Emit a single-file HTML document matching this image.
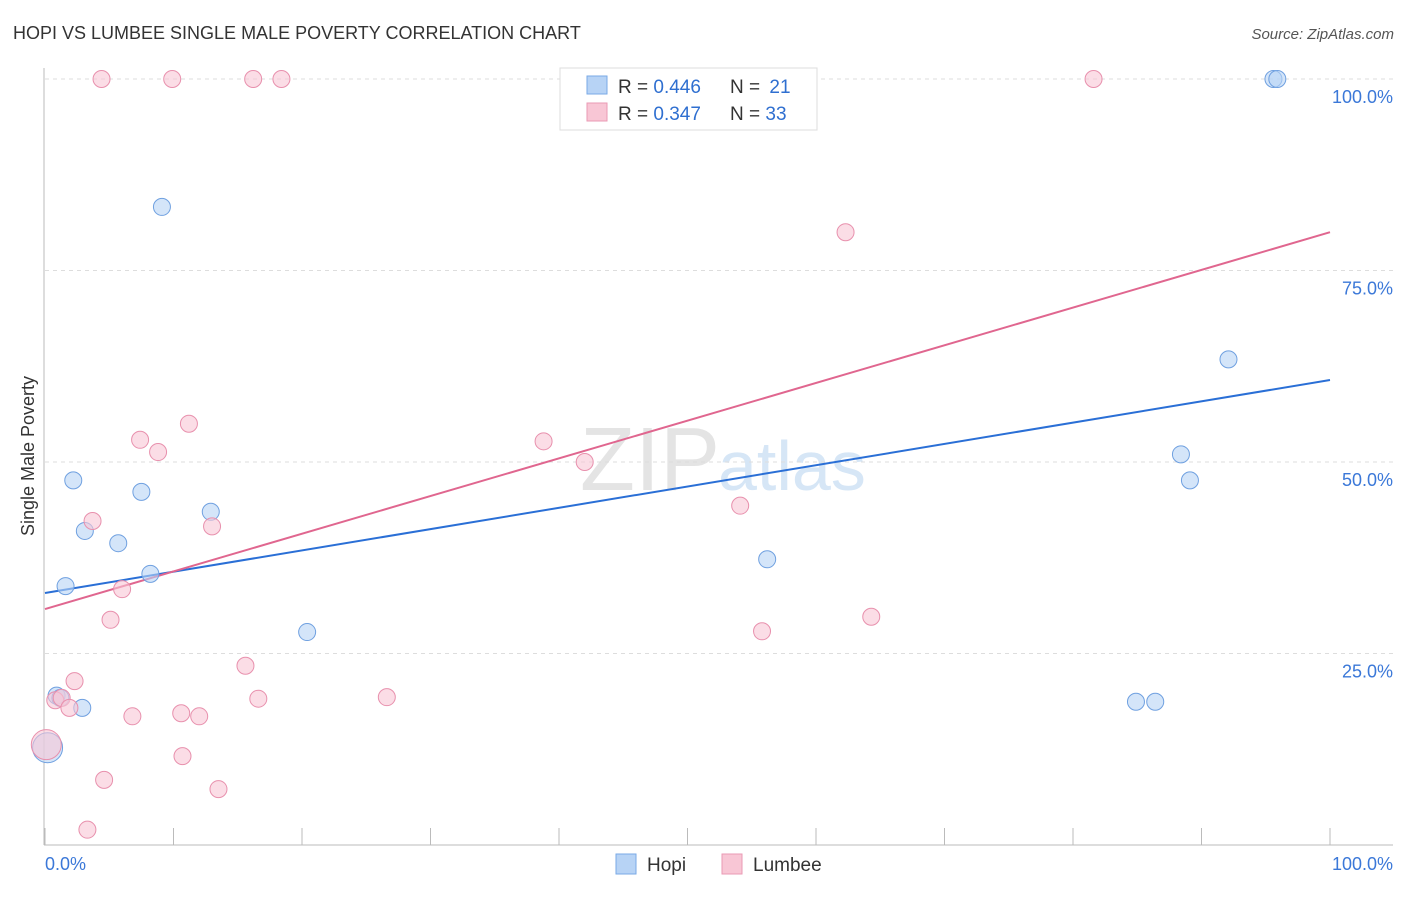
<!DOCTYPE html>
<html><head><meta charset="utf-8"><style>
body{margin:0;background:#fff;font-family:"Liberation Sans",sans-serif;}
svg text{font-family:"Liberation Sans",sans-serif;}
</style></head><body>
<svg id="chart" width="1406" height="892" xmlns="http://www.w3.org/2000/svg">
<text x="13" y="39" font-size="18" fill="#333">HOPI VS LUMBEE SINGLE MALE POVERTY CORRELATION CHART</text>
<text x="1394" y="39" font-size="15" fill="#555" font-style="italic" text-anchor="end">Source: ZipAtlas.com</text>
<text x="34" y="456" font-size="18" fill="#333" transform="rotate(-90 34 456)" text-anchor="middle">Single Male Poverty</text>
<text x="720" y="490" font-size="90" fill="#e4e4e4" font-family="Liberation Serif" text-anchor="end">ZIP</text>
<text x="718" y="490" font-size="70" fill="#d6e6f6">atlas</text>
<g id="grid"></g><g id="axes"></g><g id="lines"></g><g id="pts"></g>
<g>
<rect x="560" y="68" width="257" height="62" fill="#fff" stroke="#ddd"/>
<rect x="587" y="76" width="20" height="18" fill="#b7d3f5" stroke="#7aa9e6"/>
<text x="618" y="93" font-size="19" fill="#333">R = <tspan fill="#2f6fd0">0.446</tspan></text>
<text x="730" y="93" font-size="19" fill="#333">N = <tspan fill="#2f6fd0" dx="4">21</tspan></text>
<rect x="587" y="103" width="20" height="18" fill="#f8c6d5" stroke="#ea9ab4"/>
<text x="618" y="120" font-size="19" fill="#333">R = <tspan fill="#2f6fd0">0.347</tspan></text>
<text x="730" y="120" font-size="19" fill="#333">N = <tspan fill="#2f6fd0">33</tspan></text>
</g>
<g>
<rect x="616" y="854" width="20" height="20" fill="#b7d3f5" stroke="#7aa9e6"/>
<text x="647" y="871" font-size="19" fill="#333">Hopi</text>
<rect x="722" y="854" width="20" height="20" fill="#f8c6d5" stroke="#ea9ab4"/>
<text x="753" y="871" font-size="19" fill="#333">Lumbee</text>
</g>
</svg>
<script>
const hopiX=[9.1,2.2,7.5,12.9,3.1,5.7,8.2,1.6,20.4,0.9,1.2,2.9,0.2,56.2,88.4,89.1,92.1,84.9,86.4,95.6,95.9];
const hopiY=[83.3,47.6,46.1,43.5,41.0,39.4,35.4,33.8,27.8,19.5,19.2,17.9,12.7,37.3,51.0,47.6,63.4,18.7,18.7,100,100];
const lumbeeX=[4.4,9.9,16.2,18.4,81.6,62.3,11.2,7.4,8.8,38.8,42.0,54.1,3.7,13.0,6.0,5.1,55.8,64.3,2.3,15.6,0.8,1.3,1.9,6.8,10.6,12.0,16.6,26.6,10.7,4.6,13.5,3.3,0.1];
const lumbeeY=[100,100,100,100,100,80.0,55.0,52.9,51.3,52.7,50.0,44.3,42.3,41.6,33.4,29.4,27.9,29.8,21.4,23.4,18.9,19.2,17.9,16.8,17.2,16.8,19.1,19.3,11.6,8.5,7.3,2.0,13.1];
const hopiTrend=[32.9,60.7];
const lumbeeTrend=[30.8,80.0];
const yTicks=[25,50,75,100];
const yTickLabels=["25.0%","50.0%","75.0%","100.0%"];
const NS="http://www.w3.org/2000/svg";
const sx=v=>45+v*12.85, sy=v=>845-v*7.66;
function mk(t,a,p){const e=document.createElementNS(NS,t);for(const k in a)e.setAttribute(k,a[k]);document.getElementById(p).appendChild(e);return e;}
yTicks.forEach((t,i)=>{
 const g=mk('line',{x1:45,x2:1393,y1:sy(t),y2:sy(t),stroke:'#ddd','stroke-dasharray':'4,4'},'grid');
 
 
 const l=mk('text',{x:1393,y:sy(t)+24,'font-size':18,fill:'#3b78d8','text-anchor':'end'},'grid');
 l.textContent=yTickLabels[i];
 
 
});
mk('line',{x1:44,x2:44,y1:68,y2:845,stroke:'#bbb'},'axes');
mk('line',{x1:44,x2:1393,y1:845,y2:845,stroke:'#bbb'},'axes');
for(let i=0;i<=10;i++){const t=mk('line',{x1:sx(i*10),x2:sx(i*10),y1:828,y2:845,stroke:'#bbb'},'axes');
 
 }
let a=mk('text',{x:45,y:870,'font-size':18,fill:'#3b78d8'},'axes');a.textContent='0.0%';


a=mk('text',{x:1393,y:870,'font-size':18,fill:'#3b78d8','text-anchor':'end'},'axes');a.textContent='100.0%';


function pts(X,Y,f,s,name){X.forEach((x,i)=>{const big=x<0.5;const c=mk('circle',{cx:sx(x),cy:sy(Y[i]),r:big?15:8.5,fill:f,'fill-opacity':0.6,stroke:s,'stroke-width':1},'pts');
 
 });}
pts(hopiX,hopiY,'#b7d3f5','#6fa0e0','hopi-point');
pts(lumbeeX,lumbeeY,'#f8c6d5','#e890ad','lumbee-point');
let ln=mk('line',{x1:sx(0),x2:sx(100),y1:sy(hopiTrend[0]),y2:sy(hopiTrend[1]),stroke:'#2a6fd6','stroke-width':2},'lines');


ln=mk('line',{x1:sx(0),x2:sx(100),y1:sy(lumbeeTrend[0]),y2:sy(lumbeeTrend[1]),stroke:'#e0668f','stroke-width':2},'lines');


</script>
</body></html>
